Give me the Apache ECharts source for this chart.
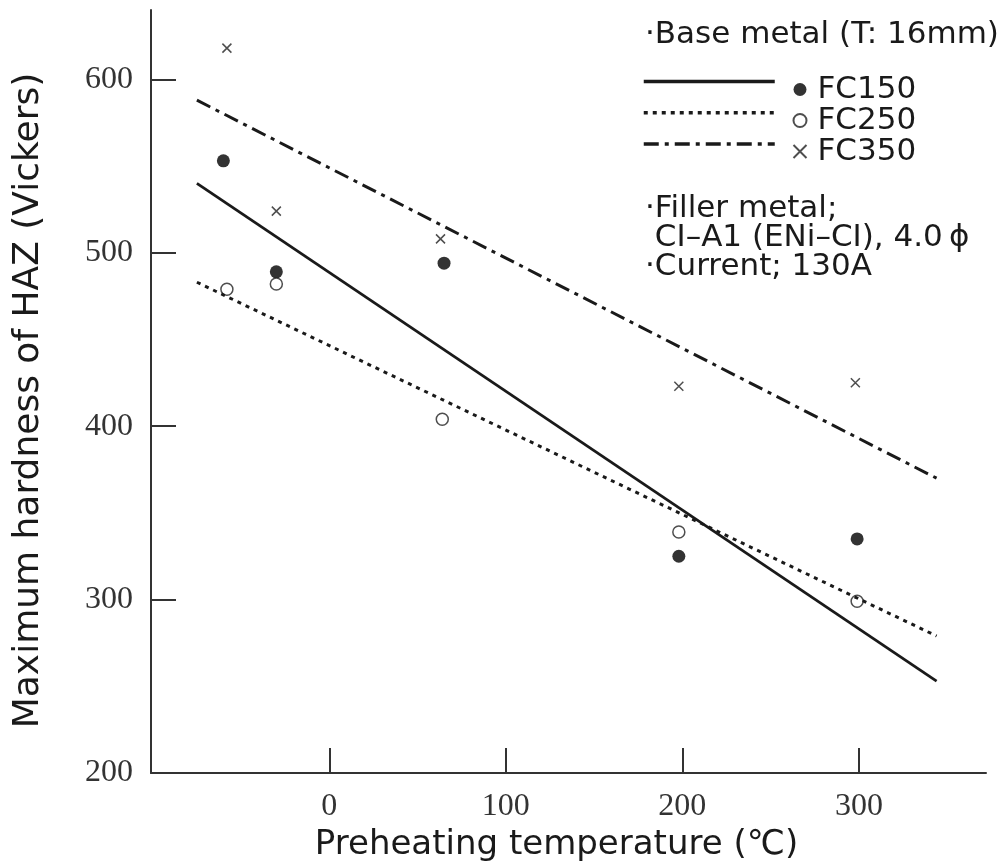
<!DOCTYPE html>
<html>
<head>
<meta charset="utf-8">
<script src="https://cdn.jsdelivr.net/npm/echarts@6/dist/echarts.min.js"></script>
<style>
  html, body { margin: 0; padding: 0; background: #fff; }
  #chart { width: 1006px; height: 865px; }
</style>
</head>
<body>
<div id="chart"></div>
<script>
// measured points, preheating temp (C) vs hardness (HV)
const fc150Pts = [[-60, 553], [-30, 489], [65, 494], [198, 325], [299, 335]];
const fc250Pts = [[-58, 479], [-30, 482], [64, 404], [198, 339], [299, 299]];
const fc350Pts = [[-58, 618], [-30, 524], [63, 508], [198, 423], [298, 425]];

// fitted lines (end points)
const fitX = [-75, 344];
const fc150Fit = [540, 253];
const fc250Fit = [483, 279];
const fc350Fit = [588, 370];

const xTicks = [0, 100, 200, 300];
const yTickMarks = [300, 400, 500, 600];
const yTickLabels = [200, 300, 400, 500, 600];

const ink = "#1a1a1a";
const sansFont = "DejaVu Sans";
const serifFont = "Liberation Serif";

function pairs(xs, ys) {
  return xs.map((x, i) => [x, ys[i]]);
}

const chart = echarts.init(document.getElementById("chart"));

const option = {
  backgroundColor: "#fff",
  animation: false,
  grid: { left: 151, right: 20, top: 10, bottom: 92, outerBoundsMode: "none" },
  xAxis: {
    type: "value",
    min: -101,
    max: 372,
    name: "Preheating temperature (℃)",
    nameLocation: "middle",
    nameGap: 53,
    nameTextStyle: { fontFamily: sansFont, fontSize: 34, color: ink, padding: [0, 24, 0, 0] },
    axisLine: { onZero: false, lineStyle: { color: "#333", width: 2 } },
    axisTick: { inside: true, length: 25, customValues: xTicks, lineStyle: { color: "#333", width: 2 } },
    axisLabel: { customValues: xTicks, margin: 18, fontFamily: serifFont, fontSize: 32, color: "#333" },
    splitLine: { show: false }
  },
  yAxis: {
    type: "value",
    min: 200,
    max: 640,
    name: "Maximum hardness of HAZ (Vickers)",
    nameLocation: "middle",
    nameGap: 104,
    nameTextStyle: { fontFamily: sansFont, fontSize: 36, color: ink, padding: [0, 18, 0, 0] },
    axisLine: { onZero: false, lineStyle: { color: "#333", width: 2 } },
    axisTick: { inside: true, length: 25, customValues: yTickMarks, lineStyle: { color: "#333", width: 2 } },
    axisLabel: { customValues: yTickLabels, margin: 18, fontFamily: serifFont, fontSize: 32, color: "#333" },
    splitLine: { show: false }
  },
  legend: [
    {
      // line samples only
      data: ["FC150 fit", "FC250 fit", "FC350 fit"],
      orient: "vertical",
      left: 637,
      top: 71,
      itemWidth: 131,
      itemHeight: 14,
      itemGap: 20,
      formatter: () => "",
      textStyle: { fontSize: 10, lineHeight: 14 },
      itemStyle: { opacity: 0 },
      lineStyle: { width: 3.5 },
      selectedMode: false
    },
    {
      data: ["FC150", "FC250", "FC350"],
      orient: "vertical",
      left: 786,
      top: 69,
      itemWidth: 13,
      itemHeight: 13,
      itemGap: 0,
      textStyle: { fontFamily: sansFont, fontSize: 31, lineHeight: 30, color: ink, padding: [0, 0, 0, 6] },
      selectedMode: false
    }
  ],
  graphic: [
    {
      type: "text",
      left: 645,
      top: 19,
      style: { text: "·Base metal (T: 16mm)", font: "31px " + sansFont, fill: ink }
    },
    {
      type: "text",
      left: 645,
      top: 193,
      style: {
        text: "·Filler metal;\n CI–A1 (ENi–CI), 4.0\u2009ϕ\n·Current; 130A",
        font: "31px " + sansFont,
        lineHeight: 29,
        fill: ink
      }
    }
  ],
  series: [
    {
      name: "FC150 fit",
      type: "line",
      data: pairs(fitX, fc150Fit),
      symbol: "none",
      itemStyle: { opacity: 0 },
      lineStyle: { color: ink, width: 2.8, type: "solid" }
    },
    {
      name: "FC250 fit",
      type: "line",
      data: pairs(fitX, fc250Fit),
      symbol: "none",
      itemStyle: { opacity: 0 },
      lineStyle: { color: ink, width: 3, type: [4, 5] }
    },
    {
      name: "FC350 fit",
      type: "line",
      data: pairs(fitX, fc350Fit),
      symbol: "none",
      itemStyle: { opacity: 0 },
      lineStyle: { color: ink, width: 3, type: [15, 6, 4, 6] }
    },
    {
      name: "FC150",
      type: "scatter",
      data: fc150Pts,
      symbol: "circle",
      symbolSize: 13,
      itemStyle: { color: "#000" }
    },
    {
      name: "FC250",
      type: "scatter",
      data: fc250Pts,
      symbol: "circle",
      symbolSize: 12,
      itemStyle: { color: "#fff", borderColor: "#222", borderWidth: 1.5 }
    },
    {
      name: "FC350",
      type: "scatter",
      data: fc350Pts,
      symbol: "path://M0 0L10 10M10 0L0 10",
      symbolSize: 9,
      itemStyle: { color: "none", borderColor: "#222", borderWidth: 1.5 }
    }
  ]
};

chart.setOption(option);
</script>
</body>
</html>
